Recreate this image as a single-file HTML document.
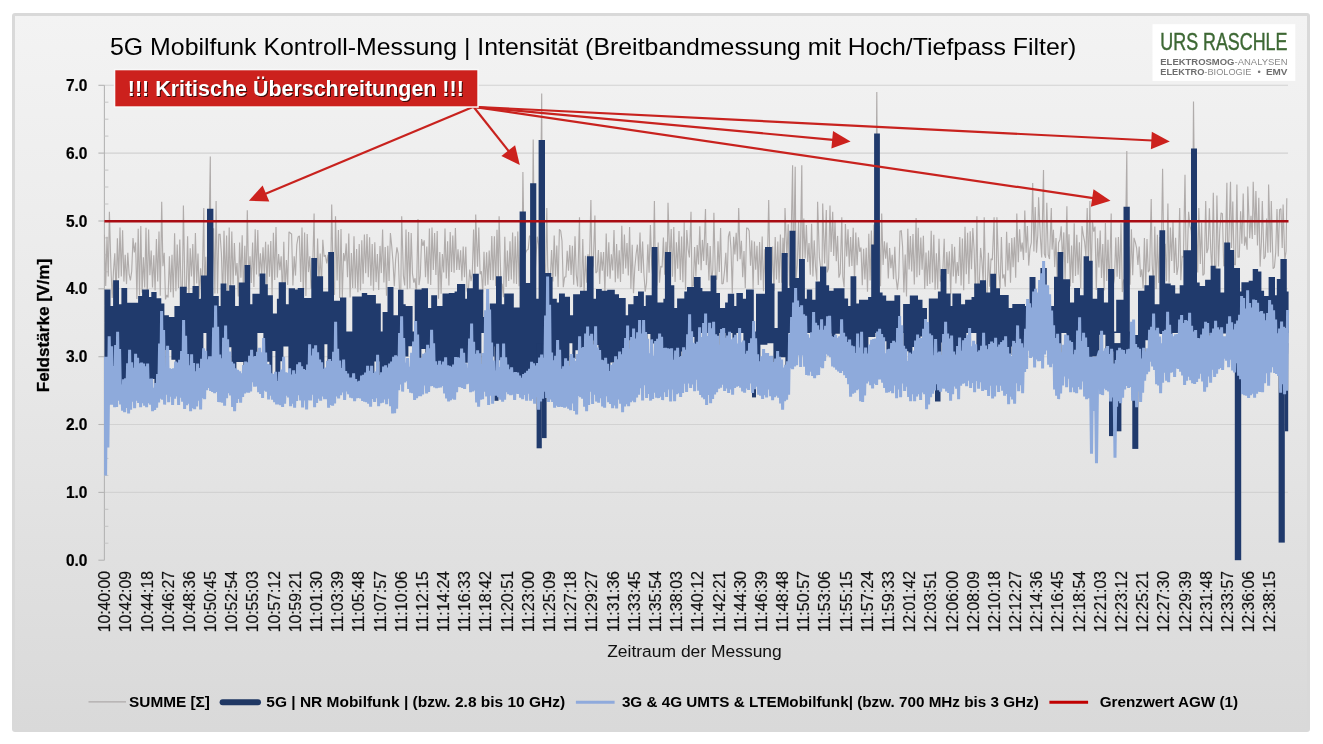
<!DOCTYPE html>
<html lang="de"><head><meta charset="utf-8"><title>5G Mobilfunk Kontroll-Messung</title>
<style>
html,body{margin:0;padding:0;background:#fff;}
body{width:1323px;height:744px;overflow:hidden;position:relative;font-family:'Liberation Sans', Arial, sans-serif;}
svg{position:absolute;left:0;top:0;display:block;}
text{font-family:'Liberation Sans', Arial, sans-serif;}
.b{font-weight:700;}
</style></head><body>
<svg width="1323" height="744" viewBox="0 0 1323 744">
<defs>
<linearGradient id="bg" x1="0" y1="0" x2="0" y2="1"><stop offset="0" stop-color="#f3f3f3"/><stop offset="0.45" stop-color="#e9e9e9"/><stop offset="1" stop-color="#d9d9d9"/></linearGradient>
<clipPath id="plot"><rect x="103.9" y="60" width="1187.6" height="501.2"/></clipPath>
</defs>
<rect x="12" y="13" width="1298" height="719" rx="3" fill="#d9d9d9"/>
<rect x="15" y="16" width="1292" height="715" fill="url(#bg)"/>
<g stroke="#d2d2d2" stroke-width="1.1" fill="none">
<line x1="104.4" y1="492.4" x2="1288" y2="492.4"/>
<line x1="104.4" y1="424.5" x2="1288" y2="424.5"/>
<line x1="104.4" y1="356.7" x2="1288" y2="356.7"/>
<line x1="104.4" y1="288.8" x2="1288" y2="288.8"/>
<line x1="104.4" y1="221" x2="1288" y2="221"/>
<line x1="104.4" y1="153.1" x2="1288" y2="153.1"/>
<line x1="104.4" y1="85.3" x2="1288" y2="85.3"/>
</g>
<g stroke="#b4b4b4" stroke-width="1.1" fill="none">
<line x1="104.4" y1="85.3" x2="104.4" y2="560.2"/>
<line x1="98.4" y1="560.2" x2="104.4" y2="560.2"/>
<line x1="98.4" y1="492.4" x2="104.4" y2="492.4"/>
<line x1="98.4" y1="424.5" x2="104.4" y2="424.5"/>
<line x1="98.4" y1="356.7" x2="104.4" y2="356.7"/>
<line x1="98.4" y1="288.8" x2="104.4" y2="288.8"/>
<line x1="98.4" y1="221" x2="104.4" y2="221"/>
<line x1="98.4" y1="153.1" x2="104.4" y2="153.1"/>
<line x1="98.4" y1="85.3" x2="104.4" y2="85.3"/>
</g>
<g stroke="#c4c4c4" stroke-width="1" fill="none">
<line x1="104.4" y1="543.2" x2="108.4" y2="543.2"/>
<line x1="104.4" y1="526.3" x2="108.4" y2="526.3"/>
<line x1="104.4" y1="509.3" x2="108.4" y2="509.3"/>
<line x1="104.4" y1="475.4" x2="108.4" y2="475.4"/>
<line x1="104.4" y1="458.4" x2="108.4" y2="458.4"/>
<line x1="104.4" y1="441.5" x2="108.4" y2="441.5"/>
<line x1="104.4" y1="407.5" x2="108.4" y2="407.5"/>
<line x1="104.4" y1="390.6" x2="108.4" y2="390.6"/>
<line x1="104.4" y1="373.6" x2="108.4" y2="373.6"/>
<line x1="104.4" y1="339.7" x2="108.4" y2="339.7"/>
<line x1="104.4" y1="322.7" x2="108.4" y2="322.7"/>
<line x1="104.4" y1="305.8" x2="108.4" y2="305.8"/>
<line x1="104.4" y1="271.8" x2="108.4" y2="271.8"/>
<line x1="104.4" y1="254.9" x2="108.4" y2="254.9"/>
<line x1="104.4" y1="237.9" x2="108.4" y2="237.9"/>
<line x1="104.4" y1="204" x2="108.4" y2="204"/>
<line x1="104.4" y1="187" x2="108.4" y2="187"/>
<line x1="104.4" y1="170.1" x2="108.4" y2="170.1"/>
<line x1="104.4" y1="136.1" x2="108.4" y2="136.1"/>
<line x1="104.4" y1="119.2" x2="108.4" y2="119.2"/>
<line x1="104.4" y1="102.2" x2="108.4" y2="102.2"/>
</g>
<g clip-path="url(#plot)">
<polyline fill="none" stroke="#b0acab" stroke-width="1.15" stroke-linejoin="miter" stroke-miterlimit="2" points="104.4,234.8 105.7,286.1 107,236.7 108.3,276.6 109.4,211.8 110.9,267.3 112.2,297.9 113.5,271.1 114.8,253.3 116.1,296.6 117.4,238.2 118.7,278.2 120,227.6 121.3,276.6 122.6,230.3 123.9,281.6 125.2,254.9 126.5,284.1 127.8,252.8 129.1,274.2 130.4,280.3 131.7,271.3 133,238.1 134.3,252.4 135.6,242.6 136.9,299.1 138.2,228.8 139.5,295.4 140.8,226 142.1,292.8 143.4,257.2 144.7,287.5 146,227.7 147.3,295.2 148.6,229.6 149.9,275.2 151.2,250.6 152.5,287.5 153.8,255.3 155.1,290.6 156.4,239 157.7,281.5 159,231.4 160.3,295.8 161.7,201.8 162.9,266.2 164.2,252.8 165.5,299.4 166.8,295 168.1,297.5 169.4,256.3 170.7,292.3 172,254.7 173.3,297.6 174.6,233.2 175.9,291.3 177.2,244.6 178.5,288.1 179.8,239.6 181.1,290.2 182.4,288.7 183.4,205.4 185,294.7 186.3,289.4 187.6,236.2 188.9,299.2 190.2,248.3 191.5,276.5 192.8,244 194.1,291.8 195.4,232.9 196.7,283.4 198,253.5 199.3,297.8 200.6,268.2 201.9,295.6 203.8,208.1 204.5,292.9 205.8,256.7 207.1,293.3 208.4,277.1 210.3,156.5 211,292.4 212.3,290.8 213.6,228.3 214.9,293.4 216.1,200.9 217.5,293.4 218.8,234.4 220.1,234.4 221.4,253.5 222.7,299.1 224,230.7 225.3,285.4 226.6,235.5 227.9,293.1 229.2,227.6 230.5,295.3 231.8,231.4 233.1,284.6 234.4,242.9 235.7,275.6 237,263.1 238.3,296.6 239.6,242.4 240.9,277.8 242.2,235.2 243.5,296.5 244.8,245.7 246.1,285.5 247.3,210.3 248.7,280 250,256.4 251.3,283 252.6,242.4 253.9,287.1 255.2,229.3 256.5,274.6 257.8,230 259.1,276.5 260.4,253.2 261.7,276.6 263,247.4 264.3,273.8 265.6,241.7 266.9,286.6 268.2,244.6 269.5,276.7 270.8,241.1 272.1,296.2 273.4,232.7 274.7,279.9 276,227.1 277.3,277.6 278.6,254 279.9,270.3 281.2,256.3 282.5,297.6 283.8,241.8 285.1,290.8 286.4,260.1 287.7,284.9 289,231.8 290.3,233 291.6,234.1 292.9,285.5 294.2,256.3 295.5,275.6 296.8,244.7 298.1,237 299.4,235.8 300.7,282.1 302,227.6 303.3,297 304.6,232.6 305.9,296 307.2,234 308.5,272.1 309.8,256.3 311.1,288.4 312.4,277.7 314.1,213.6 315,291.7 316.3,292.3 317.6,238.4 318.9,283.5 320.2,253.6 321.5,285.9 322.8,239.8 324.1,256.6 325.4,255.1 326.7,263.4 328,254.7 329.3,285.1 330.6,283.4 331.7,204.5 333.2,279.4 334.5,294.9 335.5,216.3 337.1,280.5 338.4,229.9 339.7,298.1 341,228.9 342.3,298.3 343.6,253 344.9,261.1 346.2,243.4 347.5,277.3 348.8,233.6 350.1,297.5 351.4,253 352.7,288 354,236.3 355.3,288.2 356.6,249.1 357.9,292.2 359.2,243.9 360.5,290.5 361.8,240.3 363.1,283.7 364.4,234.6 365.7,273.2 367,233.9 368.3,277.2 369.6,237.2 370.9,285.7 372.2,243.9 373.5,290.7 374.8,242.2 376.1,282.1 377.4,254 378.7,290 380,245.9 381.3,273.1 382.6,229.5 383.9,282.5 385.2,247.1 386.5,295.8 387.8,245.7 389.1,281 390.4,233 391.7,245.8 393,262 394.3,286.3 395.6,259.9 396.9,247.3 398.2,253.9 399.5,291.5 400.8,289.8 401.7,216.3 403.4,275.8 404.7,285.4 406,229.6 407.3,289.2 408.6,232 409.9,288.4 411.2,232.9 412.5,273.9 413.8,282.7 415.1,278.2 416.4,296 418,219 419,285.1 420.3,276 421.6,239 422.9,245.9 424.2,240.3 425.5,277.3 426.8,246.4 428.1,283.8 429.4,228.6 430.7,285.1 432,227.4 433.3,270 434.6,233.1 435.9,274.9 437.2,230.9 438.5,298.7 439.8,252 441.1,293.7 442.4,254 443.7,272.5 445,228.4 446.3,278.5 447.6,241.3 448.9,285.6 450.2,232 451.5,271.9 452.8,235.4 454.1,272.8 455.4,228.1 456.7,270 458,249.4 459.3,270 460.6,250.3 461.9,280.7 463.2,246.5 464.5,277.2 465.8,246.7 467.1,290.8 468.4,290 469.7,269.5 471,281.2 472.3,273.3 473.6,229.4 474.9,276.7 475.7,214.5 477.5,266.8 478.8,227.6 480.1,274.3 481.4,271.2 482.7,292.7 484,251.7 485.3,285.7 486.6,252.2 487.9,284.8 489.2,250.6 490.5,280 491.8,236 493.1,280.2 494.4,236.2 495.7,286.1 497,229.8 498.3,278.2 499.1,216.3 500.9,283.2 502.2,284.3 503.5,297.2 504.8,236.7 506.1,287 507.4,250.5 508.7,281 510,241.2 511.3,279.4 512.6,232.5 513.9,283.4 515.2,236.2 516.5,283.9 517.8,231.4 519.1,286.2 520.4,241 521.7,291.9 522.9,172.1 524.3,265 525.6,252.7 526.9,250.1 528.2,249.4 529.5,235.7 530.8,236.9 532.1,272.7 533.2,139.5 534.7,283.5 536,256.4 537.3,236.7 538.6,244.7 539.9,272.8 541.7,93.4 542.5,283.9 543.8,229.4 545.1,294.9 546.8,208.1 547.7,266.1 549,289.2 550.3,278.8 551.6,250 552.9,281.4 554.2,235.6 555.5,276.6 556.8,245.5 558.1,286.9 559.4,229.3 560.7,230.9 562,240.9 563.3,287.2 564.6,277.3 565.9,276.9 567.2,250.9 568.5,270.6 569.8,245.1 571.1,274.9 572.4,245.8 573.7,284.8 575,236.3 576.3,274.8 577.6,286.5 579.5,217.2 580.2,286.8 581.5,286.6 582.8,238.9 584.1,295.2 585.4,255.8 586.7,282.6 588,254.2 589.3,270.2 590.9,200 591.9,271.3 593.2,265.5 594.9,215.4 595.8,273 597.1,271.5 598.4,250 599.7,284 601,252.1 602.3,270.7 603.6,252 604.9,293.7 606.2,233.6 607.5,276.6 608.8,242.3 610.1,278.8 611.4,254.4 612.7,270.5 614,230.1 615.3,282.2 616.6,244.1 617.9,278.6 619.2,250.3 620.5,282 621.8,225.8 623.1,274.1 624.4,234.5 625.7,268.5 627,243 628.3,275.6 629.6,227 630.9,288.7 632.2,244.8 633.5,293.2 634.8,267.7 636.1,254.2 637.4,244.7 638.7,271 640,232.4 641.3,272.9 642.6,241.6 643.9,273.3 645.2,291.6 646.5,283.1 647.8,244.4 649.1,272.7 650.4,225 651.7,264.3 653,279.5 654.4,200.9 655.6,286.4 656.9,285.3 658.2,242.4 659.5,282.7 660.8,266.1 662.1,267.3 663.4,237.6 664.7,274.8 666,241.7 667.3,266.2 668,202.7 669.9,263.3 671.2,229 672.5,276.8 673.8,227.1 675.1,282.1 676.4,242.2 677.7,268.8 679,231.1 680.3,280.1 681.6,236.4 682.9,282.3 684.2,222.3 685.5,289.8 686.8,230.1 688.1,249 689.4,257.5 691,211.8 692,286.3 693.3,285.7 694.6,247 695.9,276.4 697.2,245 698.5,264.5 699.8,226.3 701.1,270.3 702.4,239.9 703.7,260.9 705.5,209 706.3,265.1 707.6,243.1 708.9,280.4 710.2,246.1 711.5,281.8 712.8,269.9 713.9,212.7 715.4,278 716.7,279.5 718,241.3 719.3,272 720.6,228.1 721.9,284.1 723.2,283.3 724.5,271.3 725.8,252.9 727.1,282.3 728.4,236.7 729.7,231.4 731,248.6 732.3,293.4 733.6,236.8 734.9,254.4 736.2,232.9 737.5,261.3 738.7,208.1 740.1,259.2 741.4,240.8 742.7,277.3 744,251.1 745.3,288 746.6,228.1 747.9,228.3 749.2,231 750.5,265.7 751.8,240.4 753.1,288.9 754.4,241.5 755.7,269.6 757,245.8 758.3,284.9 759.6,241.9 760.9,280.2 762.2,236.5 763.5,291.3 764.8,249.2 766.1,293.8 767.4,262.8 768.7,200 770,273.2 771.3,284.5 772.6,246.5 773.9,291.1 775.2,237 776.5,279.4 777.8,241.6 779.1,283 780.4,234.4 781.7,282.8 783,237.7 784.3,262.4 785,208.1 786.9,257.1 788.2,224.2 789.5,285.7 790.8,254.5 792.6,165.3 793.4,271.7 795.2,166.7 796,280.4 797.3,264.5 798.6,221 799.9,278.3 801.8,165.3 802.5,264 803.8,218.4 805.1,258.4 806.4,225 807.7,262.1 809,243 810.3,274.7 811.6,223.7 812.9,276.5 814.2,240.4 815.5,267 816.8,280.7 817.6,201.8 819.4,257.5 820.7,268.6 822,273.8 822.7,203.6 824.6,263.4 826.3,210 827.2,272.4 828.5,268.6 830,205.4 831.1,252 832.7,211.8 833.7,256.1 835,222 836.3,261.3 837.6,235.9 838.9,277.7 840.2,273.3 841.8,217.2 842.8,276.6 844.1,287.3 845.4,224.1 846.7,256.4 848,229.3 849.3,266.7 850.6,237.1 851.9,266 853.2,227.7 854.5,282.4 855.8,232.4 857.1,265.3 858.4,237.3 859.7,251.8 861,247.4 862.3,285.2 863.6,248.8 864.9,279.5 866.2,247.8 867.5,291.7 868.8,233.7 870.1,280.5 871.4,230.6 872.7,283.8 874,224.4 875.3,285.6 876.8,92 877.9,269.1 879.2,225.7 880.5,286.2 881.7,213.6 883.1,264.9 884.4,241.3 885.7,258.8 887,242.6 888.3,278.4 889.6,248 890.9,268.3 892.2,254.9 893.5,279.2 894.8,246.7 896.1,278.2 897.4,289.6 898.7,277.3 900,231.2 901.3,230.8 902.6,246.7 903.9,292.6 905.2,254.5 906.5,296.6 907.8,228.8 909.1,269.5 910.4,236.1 911.7,271.5 913,233.9 914.3,284.4 916.1,218.1 916.9,277.2 918.2,227.8 919.5,275.2 920.8,237.5 922.1,269.8 923.4,235.8 924.7,289 926,252.4 927.3,285.9 928.6,250.6 929.9,283.9 931.2,230.7 932.5,282.6 933.8,234.8 935.1,289.8 936.4,253.3 937.7,289.3 939,238.7 940.3,281.6 941.6,274.5 942.9,269.2 944.2,238.7 945.5,295.9 946.8,251.9 948.1,273.9 949.4,251.2 950.7,294.3 952,244 953.3,276.4 954.6,246.8 955.9,283.5 957.2,262.1 958.5,276 959.8,237.1 961.1,285.4 962.4,238.6 963.7,290.2 965,226.8 966.3,274.2 967.6,232.7 968.9,283.9 970.2,231.3 971.5,269.3 972.8,228 974.1,249.4 975.4,293.6 976.9,216.3 978,293.6 979.3,282.4 980.6,247.9 981.9,261.1 983.2,282.5 984.2,217.2 985.8,293.3 987.1,293.8 988.4,252.8 989.7,286.7 991,258.7 992.3,260.1 994.1,217.2 994.9,283.9 996.2,290.8 996.9,217.2 998.8,271.8 1000.1,288.8 1001.4,237.1 1002.7,278.4 1004,274.3 1005.3,286.8 1006.6,231.7 1007.9,270.4 1009.2,242.9 1010.5,282.8 1011.8,238 1013.1,267.2 1014.4,237.2 1015.7,277.7 1016.8,213.6 1018.3,262.2 1019.6,229.2 1020.9,251.6 1022.2,242.5 1023.5,260 1024.8,210.6 1026.1,252.7 1027.4,226.1 1028.7,265.6 1030,249.1 1031.3,242.6 1032.7,183 1033.9,251.5 1035.2,206.9 1036.5,252.8 1037.8,234.9 1038.6,197.3 1040.4,237.7 1041.7,257.5 1043.5,170.1 1044.3,253.7 1045.6,257.7 1046.8,202.7 1048.2,254.6 1049.5,259 1051.3,208.1 1052.1,249.6 1053.4,229.8 1054.7,267.1 1056,238.1 1057.3,283.6 1058.6,242.7 1059.9,239.7 1061.2,226.2 1062.5,262 1063.8,232.4 1065.1,279.7 1066.9,206.3 1067.7,263.3 1069,234.2 1070.3,286.6 1071.6,245.5 1072.9,283.1 1074.2,223.2 1075.5,275.9 1076.8,234.8 1078.1,274.8 1079.4,242.3 1080.7,288.4 1082,226.1 1083.3,234.8 1084.6,241.7 1085.9,256.3 1087.2,208.1 1088.5,267.9 1089.9,200.9 1091.1,281.3 1092.4,220.8 1093.7,231.7 1095,226.6 1096.3,289.9 1097.6,238.2 1098.9,267.5 1100.2,230.5 1101.5,278 1102.8,244.1 1104.1,290.4 1105.4,222.9 1106.7,281 1108,239.8 1109.3,288.3 1111.2,213.6 1111.9,284.1 1113.2,286 1114.5,278.3 1115.8,237.5 1117.1,276.7 1118.4,236.9 1119.7,279.1 1121,223.2 1122.3,292.1 1123.6,279.5 1124.9,283.4 1126.8,151.1 1127.5,275.7 1128.8,246.5 1130.1,284.8 1131.4,229.3 1132.7,275.3 1134,237.8 1135.3,242.2 1136.6,248 1137.9,265 1139.2,246.5 1140.5,277.1 1141.8,269.3 1143.1,288.2 1144.4,237.9 1145.7,286 1147,238.9 1148.3,272.1 1149.6,270.1 1151.2,199.1 1152.2,264.8 1153.5,284.9 1154.8,226.6 1156.1,289 1157.4,234.8 1158.7,283.1 1160,236.9 1161.3,253.9 1162.6,168.7 1163.9,263.6 1165.2,243.7 1166.5,281.3 1167.9,203.6 1169.1,282.7 1170.4,227.6 1171.7,261 1173,222.1 1174.3,272.9 1175.6,237.7 1176.9,275 1178.2,266.1 1179.7,208.1 1180.8,280.2 1182.1,256.4 1183.4,257.2 1185,174.8 1186,252.6 1187.3,257.1 1188.6,211.8 1189.9,225.8 1191.2,230.7 1192.5,249.2 1193.5,101.5 1195.1,259.5 1196.4,223.1 1197.7,272.5 1198.8,208.1 1200.3,263.9 1201.6,222.6 1202.9,275.4 1204.2,273.8 1205.7,200.9 1206.8,253.1 1208.1,248.5 1209.4,208.2 1210.7,249.6 1212,271.9 1213.3,192.7 1214.6,265.1 1215.9,269.9 1216.9,195.4 1218.5,266.6 1219.8,229.7 1221.1,212.9 1222.4,213.9 1223.7,265.8 1225,265.4 1226.9,182.7 1227.6,251.3 1228.9,240.3 1230.5,181.8 1231.5,248 1232.8,201.5 1234.1,264.1 1235.4,264.9 1236.9,184.6 1238,257.1 1239.3,257 1240.6,211.3 1241.9,243.7 1243.2,193.6 1244.5,245.7 1245.8,236.7 1247.1,249.8 1247.8,186.4 1249.7,238.2 1251,215.9 1252.3,239 1253.2,181.8 1254.9,235.1 1255.9,190.9 1257.5,245.5 1258.8,197.7 1260.1,266.6 1261.4,242.1 1262.3,200.9 1264,259.1 1265.3,256.4 1266.6,218.6 1267.9,252.8 1268.6,184.6 1270.5,252.5 1271.3,200.9 1273.1,268.7 1274.4,267.2 1275.7,252.6 1277,209 1278.3,256.6 1279.6,209.8 1280.9,208.7 1282.2,248.1 1283.1,204.5 1284.8,259.9 1286.1,251.3 1286.8,198.2"/>
<path fill="#203a6c" d="M104.5 356.7L104.5 289.4L110.5 289.4L110.5 306.1L113.1 306.1L113.1 280.3L119 280.3L119 304.3L121.4 304.3L121.4 288L127.2 288L127.2 302.8L138.1 302.8L138.1 296.1L142.1 296.1L142.1 289.4L149 289.4L149 297L151.3 297L151.3 292.1L156.6 292.1L156.6 298.3L161.3 298.3L161.3 303.4L164.4 303.4L164.4 315.2L168.9 315.2L168.9 317L174.4 317L174.4 306.1L179.8 306.1L179.8 286.7L186.7 286.7L186.7 293L192.5 293L192.5 286.1L198.9 286.1L198.9 298.8L200.9 298.8L200.9 275.6L207 275.6L207 208.7L213.4 208.7L213.4 296.1L218.8 296.1L218.8 306.1L220.6 306.1L220.6 283.4L226.4 283.4L226.4 290.7L229.2 290.7L229.2 285.2L235.1 285.2L235.1 306.1L238.8 306.1L238.8 282.5L244.6 282.5L244.6 264.9L250.2 264.9L250.2 304.3L252.4 304.3L252.4 293.8L259.6 293.8L259.6 273.4L265.4 273.4L265.4 284.3L267.8 284.3L267.8 295.2L272.9 295.2L272.9 313.4L276.9 313.4L276.9 298.8L278.7 298.8L278.7 282.2L285.9 282.2L285.9 304.3L288.7 304.3L288.7 288.3L295 288.3L295 289.4L297.7 289.4L297.7 288L304.1 288L304.1 297.9L311.3 297.9L311.3 258L317.1 258L317.1 276.2L323.1 276.2L323.1 291.6L328.2 291.6L328.2 252L334 252L334 300.7L340 300.7L340 297.4L346.3 297.4L346.3 331.5L352.3 331.5L352.3 296.5L361.8 296.5L361.8 293L367.2 293L367.2 294.9L375.9 294.9L375.9 303.4L380.8 303.4L380.8 331.5L382.6 331.5L382.6 311.9L387.5 311.9L387.5 287.1L393.5 287.1L393.5 315.2L398 315.2L398 289.8L403.5 289.8L403.5 304.3L405.7 304.3L405.7 306.1L412.6 306.1L412.6 331.5L414.7 331.5L414.7 289.4L421.6 289.4L421.6 288.3L428 288.3L428 307.9L431.2 307.9L431.2 295.2L437.1 295.2L437.1 306.1L442.5 306.1L442.5 293.4L448.8 293.4L448.8 293L454.6 293L454.6 291.6L457 291.6L457 284L465.2 284L465.2 298.8L467 298.8L467 288.3L472.8 288.3L472.8 273.8L478.8 273.8L478.8 289.4L483.3 289.4L483.3 317L489.7 317L489.7 303.4L496 303.4L496 276.2L501.8 276.2L501.8 304.3L504.2 304.3L504.2 293.4L513.8 293.4L513.8 307.6L519.6 307.6L519.6 211.4L525.9 211.4L525.9 282.9L530.1 282.9L530.1 183.3L536.3 183.3L536.3 298.8L538.6 298.8L538.6 140.1L545 140.1L545 273.1L551.3 273.1L551.3 277.1L552.6 277.1L552.6 298.8L556.8 298.8L556.8 302.5L559 302.5L559 293.4L564.9 293.4L564.9 296.7L570 296.7L570 315.2L573.1 315.2L573.1 294.3L580 294.3L580 290.7L586.9 290.7L586.9 256.2L593.6 256.2L593.6 298.8L596 298.8L596 288.9L601.8 288.9L601.8 290.7L607.2 290.7L607.2 289.8L614.8 289.8L614.8 294.3L619 294.3L619 297.9L625.7 297.9L625.7 315.2L628.1 315.2L628.1 304.3L633.5 304.3L633.5 296.1L638 296.1L638 291.6L643.9 291.6L643.9 306.1L645.7 306.1L645.7 295.2L651.7 295.2L651.7 247.1L657.5 247.1L657.5 302.5L663.4 302.5L663.4 298.8L664.9 298.8L664.9 252L671.1 252L671.1 285.2L674.3 285.2L674.3 307.9L677.1 307.9L677.1 298.5L684.3 298.5L684.3 291.6L687 291.6L687 287.1L693.9 287.1L693.9 277.1L700.6 277.1L700.6 288L702.4 288L702.4 291.2L710.6 291.2L710.6 275.6L716.4 275.6L716.4 293L720 293L720 307.9L725.1 307.9L725.1 302.5L727.8 302.5L727.8 293.8L734.2 293.8L734.2 306.1L736.4 306.1L736.4 293L742.9 293L742.9 298.8L746 298.8L746 289.4L753.8 289.4L753.8 331.5L756 331.5L756 293.8L765 293.8L765 247.1L771.9 247.1L771.9 283.4L774.5 283.4L774.5 327.9L777.7 327.9L777.7 291.6L781.7 291.6L781.7 253.1L787.7 253.1L787.7 288L789.5 288L789.5 230.8L795.5 230.8L795.5 278L799 278L799 258.9L804.9 258.9L804.9 298.8L806.8 298.8L806.8 289.4L812.2 289.4L812.2 299.8L815.5 299.8L815.5 281.6L820 281.6L820 266.6L826.3 266.6L826.3 285.2L829.1 285.2L829.1 290.7L833.6 290.7L833.6 288.3L844.5 288.3L844.5 298.5L848.1 298.5L848.1 306.1L850.5 306.1L850.5 276.2L856.3 276.2L856.3 303.4L859 303.4L859 299.8L868.1 299.8L868.1 297L871.2 297L871.2 244.4L874.1 244.4L874.1 133.6L879.9 133.6L879.9 292.5L882.6 292.5L882.6 295.6L886.2 295.6L886.2 300.7L894.4 300.7L894.4 295.2L900.2 295.2L900.2 331.5L903.1 331.5L903.1 303.9L909.8 303.9L909.8 295.6L918 295.6L918 299.8L922.5 299.8L922.5 307.9L927 307.9L927 331.5L928.8 331.5L928.8 298.5L937.9 298.5L937.9 291.6L940.6 291.6L940.6 268.9L946.4 268.9L946.4 293.4L950.6 293.4L950.6 306.1L952.4 306.1L952.4 293.4L961.1 293.4L961.1 304.3L965.1 304.3L965.1 299.8L971.5 299.8L971.5 297L974.2 297L974.2 283.4L980 283.4L980 280.3L986 280.3L986 292.5L990.2 292.5L990.2 273.8L996 273.8L996 288.3L1000 288.3L1000 294.9L1008.7 294.9L1008.7 307.9L1012.3 307.9L1012.3 303.9L1025 303.9L1025 306.1L1029.5 306.1L1029.5 277.1L1035.5 277.1L1035.5 293.4L1040.4 293.4L1040.4 268L1046.8 268L1046.8 306.1L1054 306.1L1054 276.7L1057.6 276.7L1057.6 252L1060 252L1060 252L1063.3 252L1063.3 279.3L1070 279.3L1070 302.5L1074.1 302.5L1074.1 288L1080 288L1080 295.2L1083.6 295.2L1083.6 256.2L1089 256.2L1089 260.7L1092.7 260.7L1092.7 298.8L1097.2 298.8L1097.2 288L1103.9 288L1103.9 302.5L1108.1 302.5L1108.1 268.9L1114.1 268.9L1114.1 331.5L1116.2 331.5L1116.2 299.8L1123.5 299.8L1123.5 206.7L1129.8 206.7L1129.8 331.5L1131.7 331.5L1131.7 335.1L1138 335.1L1138 290.7L1144.4 290.7L1144.4 285.2L1148.9 285.2L1148.9 275.6L1154.7 275.6L1154.7 304.3L1159.4 304.3L1159.4 230.3L1165.2 230.3L1165.2 283.4L1170.7 283.4L1170.7 285.2L1175.2 285.2L1175.2 293.4L1179.7 293.4L1179.7 285.2L1183.4 285.2L1183.4 250.2L1191 250.2L1191 148.6L1197 148.6L1197 282.5L1199.7 282.5L1199.7 286.1L1205.1 286.1L1205.1 279.8L1210.6 279.8L1210.6 265.8L1215.6 265.8L1215.6 268.4L1220.5 268.4L1220.5 292.5L1224.2 292.5L1224.2 242.6L1230.2 242.6L1230.2 249.9L1234.1 249.9L1234.1 268L1240 268L1240 291.6L1241.4 291.6L1241.4 282.2L1248.7 282.2L1248.7 280.7L1252.7 280.7L1252.7 269.1L1258.1 269.1L1258.1 271.6L1261.4 271.6L1261.4 290.7L1264.1 290.7L1264.1 296.1L1268.6 296.1L1268.6 277.1L1275 277.1L1275 295.2L1276.8 295.2L1276.8 278.9L1280.4 278.9L1280.4 258.9L1286.8 258.9L1286.8 291.6L1288.6 291.6L1288.6 356.7L1288.3 332.9L1285.4 332.9L1285.4 336.8L1279.4 336.8L1279.4 338.1L1275.4 338.1L1275.4 332.9L1269.4 332.9L1269.4 332.9L1264.4 332.9L1264.4 332.9L1261.4 332.9L1261.4 332.9L1254.4 332.9L1254.4 332.9L1248.4 332.9L1248.4 332.9L1242.4 332.9L1242.4 332.9L1236.4 332.9L1236.4 332.9L1233.4 332.9L1233.4 332.9L1228.4 332.9L1228.4 333.6L1222.4 333.6L1222.4 332.9L1218.4 332.9L1218.4 332.9L1215.4 332.9L1215.4 335.8L1209.4 335.8L1209.4 332.9L1202.4 332.9L1202.4 352.1L1197.4 352.1L1197.4 351.3L1191.4 351.3L1191.4 343.2L1188.4 343.2L1188.4 332.9L1184.4 332.9L1184.4 332.9L1179.4 332.9L1179.4 332.9L1172.4 332.9L1172.4 337.2L1166.4 337.2L1166.4 334L1159.4 334L1159.4 332.9L1152.4 332.9L1152.4 340.2L1145.4 340.2L1145.4 365.1L1138.4 365.1L1138.4 351.9L1131.4 351.9L1131.4 370.7L1126.4 370.7L1126.4 372.1L1120.4 372.1L1120.4 332.9L1114.4 332.9L1114.4 351.6L1109.4 351.6L1109.4 355.1L1105.4 355.1L1105.4 334.8L1099.4 334.8L1099.4 356.6L1092.4 356.6L1092.4 362.5L1086.4 362.5L1086.4 352.6L1079.4 352.6L1079.4 367.1L1072.4 367.1L1072.4 358L1069.4 358L1069.4 355.3L1066.4 355.3L1066.4 332.9L1061.4 332.9L1061.4 361.8L1057.4 361.8L1057.4 348.8L1053.4 348.8L1053.4 332.9L1050.4 332.9L1050.4 332.9L1044.4 332.9L1044.4 332.9L1041.4 332.9L1041.4 332.9L1036.4 332.9L1036.4 332.9L1031.4 332.9L1031.4 332.9L1024.4 332.9L1024.4 348.3L1018.4 348.3L1018.4 346.5L1011.4 346.5L1011.4 355.1L1004.4 355.1L1004.4 356.4L997.4 356.4L997.4 359.7L990.4 359.7L990.4 349.8L983.4 349.8L983.4 352L976.4 352L976.4 332.9L973.4 332.9L973.4 332.9L966.4 332.9L966.4 358.5L960.4 358.5L960.4 354.6L955.4 354.6L955.4 362.9L950.4 362.9L950.4 355L944.4 355L944.4 342.4L941.4 342.4L941.4 360.9L935.4 360.9L935.4 358.4L932.4 358.4L932.4 341.5L927.4 341.5L927.4 336.5L920.4 336.5L920.4 351.6L915.4 351.6L915.4 347.1L912.4 347.1L912.4 363L908.4 363L908.4 351.3L903.4 351.3L903.4 332.9L896.4 332.9L896.4 354L891.4 354L891.4 355.7L886.4 355.7L886.4 341.2L879.4 341.2L879.4 332.9L875.4 332.9L875.4 337.1L868.4 337.1L868.4 366.8L861.4 366.8L861.4 353.4L854.4 353.4L854.4 366.8L848.4 366.8L848.4 349.3L841.4 349.3L841.4 333.8L835.4 333.8L835.4 342.6L831.4 342.6L831.4 333.5L826.4 333.5L826.4 332.9L821.4 332.9L821.4 332.9L815.4 332.9L815.4 344.2L810.4 344.2L810.4 332.9L806.4 332.9L806.4 332.9L802.4 332.9L802.4 332.9L795.4 332.9L795.4 332.9L788.4 332.9L788.4 367.4L785.4 367.4L785.4 357.2L779.4 357.2L779.4 366.1L773.4 366.1L773.4 343.2L767.4 343.2L767.4 344.7L760.4 344.7L760.4 363.4L754.4 363.4L754.4 344.7L748.4 344.7L748.4 368.5L743.4 368.5L743.4 332.9L736.4 332.9L736.4 346L732.4 346L732.4 332.9L728.4 332.9L728.4 353.7L725.4 353.7L725.4 332.9L719.4 332.9L719.4 346.9L713.4 346.9L713.4 349L710.4 349L710.4 332.9L703.4 332.9L703.4 332.9L700.4 332.9L700.4 350.3L697.4 350.3L697.4 344.7L694.4 344.7L694.4 337L688.4 337L688.4 351.5L681.4 351.5L681.4 372.7L675.4 372.7L675.4 366.6L669.4 366.6L669.4 369.4L662.4 369.4L662.4 363.3L656.4 363.3L656.4 343.4L650.4 343.4L650.4 334.1L647.4 334.1L647.4 339L641.4 339L641.4 340.2L635.4 340.2L635.4 340.3L629.4 340.3L629.4 361.8L622.4 361.8L622.4 363.8L616.4 363.8L616.4 362.4L610.4 362.4L610.4 383.5L604.4 383.5L604.4 365L601.4 365L601.4 363.7L598.4 363.7L598.4 344.9L593.4 344.9L593.4 340.6L587.4 340.6L587.4 351.4L584.4 351.4L584.4 359L578.4 359L578.4 350.2L575.4 350.2L575.4 359L572.4 359L572.4 343.3L569.4 343.3L569.4 375.8L563.4 375.8L563.4 380.9L558.4 380.9L558.4 373.8L551.4 373.8L551.4 352.7L547.4 352.7L547.4 369.2L544.4 369.2L544.4 361.5L539.4 361.5L539.4 379.3L533.4 379.3L533.4 372.9L530.4 372.9L530.4 392.2L524.4 392.2L524.4 387.7L520.4 387.7L520.4 385.7L513.4 385.7L513.4 373L507.4 373L507.4 365.2L500.4 365.2L500.4 360.2L497.4 360.2L497.4 346.4L494.4 346.4L494.4 356.4L488.4 356.4L488.4 332.9L481.4 332.9L481.4 372.7L474.4 372.7L474.4 345.7L468.4 345.7L468.4 362.8L462.4 362.8L462.4 366.4L457.4 366.4L457.4 374.1L452.4 374.1L452.4 367.9L446.4 367.9L446.4 373.8L439.4 373.8L439.4 368.7L433.4 368.7L433.4 371.8L429.4 371.8L429.4 352.8L425.4 352.8L425.4 349.1L421.4 349.1L421.4 373.2L417.4 373.2L417.4 373.9L413.4 373.9L413.4 346.2L408.4 346.2L408.4 356.6L401.4 356.6L401.4 362.6L397.4 362.6L397.4 373.8L391.4 373.8L391.4 368.2L385.4 368.2L385.4 385.4L379.4 385.4L379.4 361.5L374.4 361.5L374.4 375.6L369.4 375.6L369.4 385.3L362.4 385.3L362.4 386.7L355.4 386.7L355.4 379.1L349.4 379.1L349.4 379.7L344.4 379.7L344.4 382.4L339.4 382.4L339.4 376L332.4 376L332.4 377.1L327.4 377.1L327.4 344.2L324.4 344.2L324.4 379.5L319.4 379.5L319.4 361.5L312.4 361.5L312.4 376.1L306.4 376.1L306.4 391.4L300.4 391.4L300.4 384.5L294.4 384.5L294.4 385.7L288.4 385.7L288.4 346.6L283.4 346.6L283.4 361.3L280.4 361.3L280.4 381.2L275.4 381.2L275.4 351L272.4 351L272.4 381.2L269.4 381.2L269.4 361.8L263.4 361.8L263.4 333.1L257.4 333.1L257.4 366.5L254.4 366.5L254.4 365.1L251.4 365.1L251.4 367L246.4 367L246.4 368.7L243.4 368.7L243.4 362L236.4 362L236.4 375.5L231.4 375.5L231.4 347.3L224.4 347.3L224.4 370.8L218.4 370.8L218.4 332.9L213.4 332.9L213.4 371L206.4 371L206.4 332.9L203.4 332.9L203.4 372.9L197.4 372.9L197.4 384.1L191.4 384.1L191.4 375.2L186.4 375.2L186.4 367.8L179.4 367.8L179.4 365.2L175.4 365.2L175.4 359.8L171.4 359.8L171.4 350.1L165.4 350.1L165.4 384.3L159.4 384.3L159.4 388.9L154.4 388.9L154.4 379L151.4 379L151.4 393L148.4 393L148.4 369.7L142.4 369.7L142.4 382.9L138.4 382.9L138.4 381.6L132.4 381.6L132.4 390.9L125.4 390.9L125.4 385.2L120.4 385.2L120.4 392.1L114.4 392.1L114.4 369.2L108.4 369.2L108.4 357.6L104.4 357.6Z"/>
<rect x="536.6" y="343.1" width="5.2" height="105.2" fill="#203a6c"/>
<rect x="541.8" y="343.1" width="4.8" height="95" fill="#203a6c"/>
<rect x="1109" y="343.1" width="4.4" height="93" fill="#203a6c"/>
<rect x="1113.4" y="343.1" width="8" height="88.2" fill="#203a6c"/>
<rect x="1132.3" y="343.1" width="6" height="105.8" fill="#203a6c"/>
<rect x="1234.8" y="343.1" width="6.4" height="217.1" fill="#203a6c"/>
<rect x="1278.6" y="343.1" width="6.2" height="199.5" fill="#203a6c"/>
<rect x="1284.8" y="343.1" width="3.4" height="88.2" fill="#203a6c"/>
<rect x="494.5" y="343.1" width="4" height="57.7" fill="#203a6c"/>
<rect x="935" y="343.1" width="5.5" height="58.4" fill="#203a6c"/>
<rect x="752" y="343.1" width="4" height="54.3" fill="#203a6c"/>
<polyline fill="none" stroke="#8eaadb" stroke-width="3" stroke-linejoin="bevel" points="105.2,356.7 105.6,475.4 106.7,356.7 107.9,447.6 109.2,336.3 110.6,404.6 111.6,346.3 112.6,404.8 113.6,366.1 114.6,407.3 115.6,344.9 116.6,406.9 117.6,331.7 118.6,400.7 119.6,349.1 120.6,404.5 121.6,384.5 122.6,410.6 123.6,379.3 124.6,412.1 125.6,378.3 126.6,407.9 127.6,363.4 128.6,413.5 129.6,349.8 130.6,409.6 131.6,362.4 132.6,401.7 133.6,367.8 134.6,408.2 135.6,353.9 136.6,400.6 137.6,357.9 138.6,402.9 139.6,363.3 140.6,407.2 141.6,362.5 142.6,403.1 143.6,363.6 144.6,405.8 145.6,366.4 146.6,407.2 147.6,363.6 148.6,403.2 149.6,378.7 150.6,404.6 151.6,378.5 152.6,411.3 153.6,387.8 154.6,410 155.6,383 156.6,407.7 157.6,374 158.6,402.4 159.6,343.5 160.6,398.7 161.6,310.9 162.6,399.7 163.6,330.1 164.6,404.6 165.6,367 166.6,394.7 167.6,345.8 168.6,402.2 169.6,368.3 170.6,396.7 171.6,369 172.6,405 173.6,368.3 174.6,398.7 175.6,361.5 176.6,396.4 177.6,362.6 178.6,405 179.6,359.9 180.6,397.7 181.6,351 182.6,401.6 183.6,320 184.6,409.1 185.6,335.7 186.6,405.1 187.6,354.1 188.6,403.8 189.6,365.4 190.6,411.1 191.6,354.3 192.6,408.3 193.6,363.1 194.6,409.3 195.6,371.4 196.6,406.4 197.6,363.6 198.6,400.6 199.6,368 200.6,409.5 201.6,358.9 202.6,398.3 203.6,348.2 204.6,399.1 205.6,350.7 206.6,390.2 207.6,359.4 208.6,387.9 209.6,356.3 210.6,391 211.6,356.3 212.6,391.9 213.6,327.4 214.6,393.2 215.6,305.4 216.6,392 217.6,326.8 218.6,402.1 219.6,354.6 220.6,402.3 221.6,358.3 222.6,402.6 223.6,337.8 224.6,405.7 225.6,325.4 226.6,398.2 227.6,339.2 228.6,393.2 229.6,351.5 230.6,395.4 231.6,361.7 232.6,406.9 233.6,363.5 234.6,411.1 235.6,368.2 236.6,402.9 237.6,369.9 238.6,398.9 239.6,371.2 240.6,402.7 241.6,373.2 242.6,396.9 243.6,365 244.6,393.4 245.6,361.6 246.6,392.5 247.6,362.3 248.6,392.6 249.6,355.9 250.6,391.5 251.6,349.8 252.6,382.3 253.6,356.6 254.6,386.7 255.6,356.1 256.6,386.5 257.6,351.7 258.6,392.2 259.6,347.9 260.6,393.9 261.6,352.2 262.6,398 263.6,338.1 264.6,390.8 265.6,352.6 266.6,391.6 267.6,364 268.6,399.4 269.6,364.9 270.6,395.8 271.6,373.2 272.6,399.8 273.6,374.1 274.6,402.1 275.6,371.8 276.6,404.5 277.6,381.3 278.6,404.5 279.6,371.9 280.6,405.1 281.6,369.6 282.6,406.9 283.6,356.9 284.6,403.8 285.6,372.2 286.6,395.7 287.6,372.8 288.6,397.5 289.6,368.2 290.6,406.1 291.6,374.5 292.6,403.7 293.6,370.2 294.6,407.7 295.6,373.7 296.6,401 297.6,364.4 298.6,395.2 299.6,362.2 300.6,400.4 301.6,366.3 302.6,407.5 303.6,369 304.6,400.5 305.6,370 306.6,409.5 307.6,364.6 308.6,400.1 309.6,344.4 310.6,400.4 311.6,355.5 312.6,394.6 313.6,348.5 314.6,407.3 315.6,345.3 316.6,403 317.6,352.3 318.6,398.7 319.6,359.6 320.6,400.6 321.6,362.2 322.6,396.4 323.6,368.9 324.6,399.2 325.6,367.6 326.6,399.1 327.6,360.9 328.6,407.7 329.6,359 330.6,405 331.6,361.1 332.6,405.7 333.6,351.9 334.6,403.5 335.6,321.8 336.6,396.5 337.6,348.7 338.6,398.5 339.6,360.6 340.6,395.2 341.6,368.1 342.6,392.5 343.6,359.5 344.6,399.9 345.6,371 346.6,391.5 347.6,373.5 348.6,394.3 349.6,377.5 350.6,397.6 351.6,377.6 352.6,398.1 353.6,373.3 354.6,401.2 355.6,379.1 356.6,398.1 357.6,381.7 358.6,397.9 359.6,380.8 360.6,398.3 361.6,375.6 362.6,401 363.6,374.9 364.6,401.7 365.6,372.6 366.6,402.2 367.6,365.9 368.6,403.8 369.6,370.8 370.6,406.8 371.6,365.7 372.6,398.9 373.6,373 374.6,402 375.6,371.6 376.6,398.2 377.6,354.8 378.6,406.3 379.6,375.1 380.6,403.2 381.6,372.2 382.6,402.8 383.6,366.5 384.6,399.5 385.6,365.4 386.6,404.1 387.6,367.5 388.6,398.7 389.6,363.5 390.6,406.3 391.6,361.5 392.6,413.4 393.6,356.7 394.6,413.3 395.6,355.3 396.6,408.7 397.6,356.4 398.6,390.1 399.6,333 400.6,384.4 401.6,316.3 402.6,391.6 403.6,338 404.6,382.4 405.6,362.8 406.6,381.1 407.6,358 408.6,389 409.6,366.8 410.6,392.6 411.6,352.9 412.6,393.2 413.6,341.5 414.6,399.9 415.6,320.9 416.6,398.2 417.6,334.4 418.6,396.3 419.6,357.7 420.6,396.3 421.6,357.9 422.6,394.5 423.6,353.7 424.6,385.4 425.6,352.9 426.6,393.4 427.6,344.7 428.6,391.9 429.6,348.4 430.6,386.1 431.6,329.9 432.6,386 433.6,343.2 434.6,387.5 435.6,361.4 436.6,388.1 437.6,364.9 438.6,387.6 439.6,360.8 440.6,387.5 441.6,364.6 442.6,385.9 443.6,361.6 444.6,393.5 445.6,357.2 446.6,398.5 447.6,365.4 448.6,401.4 449.6,365.9 450.6,400.3 451.6,366.8 452.6,398.7 453.6,364.6 454.6,399.7 455.6,357.1 456.6,392.3 457.6,357.2 458.6,387 459.6,357.7 460.6,387.3 461.6,348.6 462.6,388 463.6,352.9 464.6,388.9 465.6,363.4 466.6,384.2 467.6,368.3 468.6,383.7 469.6,338.6 470.6,392.3 471.6,323.6 472.6,391.5 473.6,341.8 474.6,390.4 475.6,353.8 476.6,402.4 477.6,350.2 478.6,406.6 479.6,353.4 480.6,399.6 481.6,364 482.6,399.1 483.6,353 484.6,391.7 485.6,310.2 486.6,396.5 487.6,289.1 488.6,405.1 489.6,309.5 490.6,395.8 491.6,342.5 492.6,403.8 493.6,360.5 494.6,395.7 495.6,370.6 496.6,395.7 497.6,343.8 498.6,397.2 499.6,367.1 500.6,399.6 501.6,357.4 502.6,401.6 503.6,343.5 504.6,399.8 505.6,357.2 506.6,392.2 507.6,364.6 508.6,394.2 509.6,369.3 510.6,395.1 511.6,367.4 512.6,394.7 513.6,372.2 514.6,400 515.6,372 516.6,393.6 517.6,372.6 518.6,393.9 519.6,375.6 520.6,397.7 521.6,377.8 522.6,399.1 523.6,374.1 524.6,395 525.6,372.7 526.6,400.7 527.6,370.7 528.6,393.7 529.6,368.9 530.6,400.8 531.6,361.9 532.6,398.9 533.6,363.4 534.6,403.7 535.6,365.5 536.6,397.3 537.6,363 538.6,409.8 539.6,357.5 540.6,401.5 541.6,354.5 542.6,398.6 543.6,357.8 544.6,391.7 545.6,315.5 546.6,398.1 547.6,276.4 548.6,402 549.6,304.8 550.6,399.5 551.6,352.5 552.6,402 553.6,360.4 554.6,407.6 555.6,355.7 556.6,405.8 557.6,339.9 558.6,407 559.6,349.7 560.6,406.6 561.6,368.8 562.6,406.9 563.6,366.2 564.6,407.8 565.6,358.4 566.6,406.8 567.6,360.9 568.6,408.8 569.6,365.8 570.6,410.2 571.6,354 572.6,403.4 573.6,357.7 574.6,411 575.6,360.7 576.6,414.5 577.6,354 578.6,396 579.6,336.3 580.6,397.2 581.6,347.9 582.6,398.7 583.6,347.1 584.6,406.7 585.6,333.4 586.6,411.2 587.6,326.4 588.6,405.1 589.6,335.7 590.6,391.8 591.6,333.8 592.6,403.9 593.6,344.5 594.6,394.6 595.6,326.3 596.6,401.6 597.6,347.5 598.6,402.6 599.6,350 600.6,398.2 601.6,359.8 602.6,406.5 603.6,360.4 604.6,407.6 605.6,357.9 606.6,396.3 607.6,363.9 608.6,402.3 609.6,371.1 610.6,404 611.6,364.8 612.6,408.3 613.6,363.1 614.6,405.4 615.6,356.2 616.6,408.4 617.6,359.3 618.6,399.4 619.6,351.6 620.6,403.7 621.6,354.4 622.6,412.3 623.6,348.1 624.6,406.5 625.6,337.9 626.6,404.3 627.6,325.4 628.6,406.2 629.6,348.8 630.6,402.3 631.6,337 632.6,400.7 633.6,328.4 634.6,402.3 635.6,338.5 636.6,397.6 637.6,332.2 638.6,394.8 639.6,320 640.6,388.1 641.6,333.4 642.6,400.6 643.6,320 644.6,385.1 645.6,332 646.6,397.9 647.6,338.9 648.6,394 649.6,353.3 650.6,400.6 651.6,339.4 652.6,399 653.6,355.7 654.6,392.6 655.6,341.1 656.6,397.8 657.6,338.8 658.6,398.1 659.6,333.6 660.6,396.7 661.6,336.8 662.6,400.1 663.6,348 664.6,392.2 665.6,347.9 666.6,397 667.6,348.2 668.6,389.4 669.6,348.7 670.6,401.5 671.6,348.3 672.6,389.4 673.6,359.9 674.6,401.2 675.6,350.6 676.6,394.3 677.6,347.8 678.6,393.2 679.6,357.1 680.6,396.9 681.6,356.1 682.6,392.9 683.6,347.3 684.6,383.7 685.6,349.7 686.6,392 687.6,334.2 688.6,383.5 689.6,314.3 690.6,387.9 691.6,331.2 692.6,384.5 693.6,342.8 694.6,391.1 695.6,343.9 696.6,379.6 697.6,341.7 698.6,390.6 699.6,327.2 700.6,394.9 701.6,336.9 702.6,397.4 703.6,323.1 704.6,399.2 705.6,313.6 706.6,405 707.6,335.9 708.6,394.9 709.6,322.8 710.6,403.3 711.6,328.2 712.6,398.9 713.6,321.8 714.6,394.5 715.6,334.3 716.6,392.1 717.6,335.9 718.6,388.6 719.6,344.7 720.6,387.6 721.6,329 722.6,384.6 723.6,328.1 724.6,391 725.6,337.8 726.6,388.4 727.6,335.5 728.6,393 729.6,331.7 730.6,389.4 731.6,339.3 732.6,394.6 733.6,337.5 734.6,387.9 735.6,334.9 736.6,386.6 737.6,343.6 738.6,385.9 739.6,328.1 740.6,387.7 741.6,342.4 742.6,391.4 743.6,340.5 744.6,392.8 745.6,353.8 746.6,388.4 747.6,350.9 748.6,390 749.6,343 750.6,383.4 751.6,338.3 752.6,393 753.6,320.9 754.6,389.3 755.6,338.2 756.6,386.6 757.6,354.4 758.6,394.6 759.6,361.4 760.6,395.7 761.6,356.4 762.6,399 763.6,349.1 764.6,395.2 765.6,353 766.6,397.5 767.6,353.1 768.6,389.5 769.6,356.1 770.6,396.3 771.6,355.9 772.6,400.1 773.6,362 774.6,397.2 775.6,358.6 776.6,395.8 777.6,351 778.6,397.6 779.6,356.9 780.6,403.5 781.6,359.6 782.6,409.8 783.6,367.6 784.6,401.3 785.6,364.7 786.6,399.6 787.6,361.4 788.6,394.7 789.6,333.7 790.6,368.1 791.6,317 792.6,369.2 793.6,302.4 794.6,366.6 795.6,288.1 796.6,365.3 797.6,300.5 798.6,355.5 799.6,307.1 800.6,367 801.6,305.3 802.6,355.4 803.6,314.4 804.6,366.8 805.6,315.9 806.6,375 807.6,334.4 808.6,375.4 809.6,337.7 810.6,371.8 811.6,332.4 812.6,376 813.6,311.9 814.6,378.2 815.6,322.7 816.6,375.2 817.6,325.4 818.6,374.9 819.6,329.7 820.6,367.3 821.6,319.3 822.6,368.3 823.6,329.7 824.6,360.9 825.6,325.8 826.6,354.1 827.6,316.3 828.6,355.7 829.6,315.9 830.6,357.3 831.6,336.4 832.6,366.5 833.6,337 834.6,367.5 835.6,334.8 836.6,369.8 837.6,337.8 838.6,371.4 839.6,336.2 840.6,373 841.6,319.4 842.6,370.9 843.6,332.7 844.6,375.3 845.6,336.5 846.6,378 847.6,342 848.6,384.1 849.6,339.6 850.6,396.6 851.6,345.5 852.6,393.8 853.6,346.3 854.6,392.8 855.6,353.1 856.6,390.3 857.6,333.6 858.6,389.1 859.6,347.5 860.6,401.2 861.6,331.8 862.6,401.9 863.6,353.5 864.6,395.5 865.6,347.6 866.6,383.5 867.6,353.6 868.6,381.4 869.6,344.5 870.6,385.1 871.6,339.9 872.6,388.5 873.6,339 874.6,383.7 875.6,338.6 876.6,385 877.6,331.5 878.6,379.5 879.6,328.7 880.6,379.5 881.6,334.1 882.6,382.8 883.6,337.4 884.6,387.9 885.6,353.3 886.6,392.8 887.6,349.4 888.6,392.3 889.6,348.9 890.6,390.9 891.6,343.1 892.6,393.1 893.6,340.8 894.6,385.5 895.6,342.2 896.6,398.2 897.6,328 898.6,389.6 899.6,316.1 900.6,397.3 901.6,325.3 902.6,383.4 903.6,345.9 904.6,390.9 905.6,348.7 906.6,386.8 907.6,361 908.6,396.9 909.6,352.6 910.6,401.1 911.6,353.9 912.6,394.2 913.6,350.6 914.6,401.3 915.6,340.6 916.6,396.6 917.6,334.5 918.6,394.2 919.6,338 920.6,400 921.6,338 922.6,392.4 923.6,328.8 924.6,394.2 925.6,319 926.6,409.3 927.6,322.1 928.6,404.6 929.6,333.4 930.6,397.3 931.6,335.2 932.6,393.8 933.6,355.2 934.6,390.4 935.6,339.1 936.6,384.3 937.6,352.6 938.6,390.3 939.6,351.6 940.6,391.6 941.6,355 942.6,388.4 943.6,334.1 944.6,388.8 945.6,321.8 946.6,391.5 947.6,333.5 948.6,393 949.6,338.5 950.6,400.8 951.6,335.6 952.6,394.2 953.6,351.5 954.6,386.4 955.6,355.4 956.6,388.8 957.6,346.1 958.6,399.3 959.6,337.5 960.6,385.6 961.6,350.8 962.6,383.6 963.6,340.3 964.6,383.1 965.6,338 966.6,386.3 967.6,334.8 968.6,380.7 969.6,328.1 970.6,387.9 971.6,346.4 972.6,382.9 973.6,340.8 974.6,392.1 975.6,344.4 976.6,380.9 977.6,351.9 978.6,388.8 979.6,350.2 980.6,382.2 981.6,345.8 982.6,390.9 983.6,332.7 984.6,389.6 985.6,345.6 986.6,389.9 987.6,349.3 988.6,395.9 989.6,344.1 990.6,385.6 991.6,341.6 992.6,398.5 993.6,343 994.6,396.5 995.6,337.7 996.6,385.5 997.6,346.9 998.6,391.9 999.6,344.5 1000.6,385.8 1001.6,342.1 1002.6,390.7 1003.6,340.4 1004.6,395.6 1005.6,336.3 1006.6,394 1007.6,347.1 1008.6,404.2 1009.6,353.6 1010.6,396.7 1011.6,356.1 1012.6,399.4 1013.6,340.9 1014.6,403.8 1015.6,343.1 1016.6,383.2 1017.6,325.4 1018.6,391.2 1019.6,338.9 1020.6,385.1 1021.6,343.4 1022.6,393.2 1023.6,347.6 1024.6,372 1025.6,328.9 1026.6,369 1027.6,299 1028.6,350.8 1029.6,303.2 1030.6,358 1031.6,307.6 1032.6,356.6 1033.6,291.4 1034.6,367.6 1035.6,288.7 1036.6,359.5 1037.6,292.5 1038.6,361.3 1039.6,280 1040.6,361.1 1041.6,273.2 1042.6,368.5 1043.6,261 1044.6,354.6 1045.6,284.4 1046.6,350.4 1047.6,285.2 1048.6,364.8 1049.6,294.2 1050.6,367.3 1051.6,310.5 1052.6,363.8 1053.6,325.3 1054.6,389.5 1055.6,338.1 1056.6,395.8 1057.6,333.7 1058.6,399.1 1059.6,343.2 1060.6,393.5 1061.6,352.2 1062.6,385.5 1063.6,344.9 1064.6,376.4 1065.6,334.5 1066.6,387.2 1067.6,335.2 1068.6,378.6 1069.6,340.5 1070.6,392.3 1071.6,342 1072.6,387.5 1073.6,354.2 1074.6,392.2 1075.6,349.8 1076.6,393.3 1077.6,330.4 1078.6,387 1079.6,317.2 1080.6,389.5 1081.6,341 1082.6,381.5 1083.6,332.7 1084.6,396.6 1085.6,337.4 1086.6,399.3 1087.6,347.1 1088.6,398.1 1090.2,356.7 1091.5,453.7 1092.7,356.7 1093.9,410.9 1095.1,356.7 1096.5,463.2 1097.9,356.7 1099.6,350.7 1100.6,394.1 1101.6,330.8 1102.6,395.1 1103.6,350.8 1104.6,388.6 1105.6,348.2 1106.6,390.2 1107.6,346 1108.6,391.5 1109.6,354 1110.6,401.5 1111.6,348.7 1112.6,397.5 1113.8,363.4 1115,457.7 1116.2,360 1116.6,406.7 1117.6,350.4 1118.6,401.1 1119.6,347.7 1120.6,403.2 1121.6,349.5 1122.6,397.7 1123.6,350.1 1124.6,389.4 1125.6,353.9 1126.6,386 1127.6,349.2 1128.6,388 1129.6,348.9 1130.6,386.9 1131.6,321.8 1132.6,400.7 1133.6,319.4 1134.6,400.7 1135.6,344 1136.6,407.3 1137.6,347.4 1138.6,391.5 1139.6,348.7 1140.6,402 1141.6,358.6 1142.6,392.8 1143.6,347.8 1144.6,380.7 1145.6,351.6 1146.6,374.1 1147.6,348.4 1148.6,371.6 1149.6,329.7 1150.6,361.6 1151.6,326.7 1152.6,366.4 1153.6,313.6 1154.6,369.9 1155.6,330.3 1156.6,384.1 1157.6,327.8 1158.6,385.4 1159.6,336.5 1160.6,393.1 1161.6,343.3 1162.6,382.7 1163.6,331.1 1164.6,372.6 1165.6,329.7 1166.6,380.6 1167.6,311.8 1168.6,382.3 1169.6,324.7 1170.6,372.8 1171.6,333.9 1172.6,372.2 1173.6,336.3 1174.6,377 1175.6,334.3 1176.6,368.4 1177.6,334 1178.6,368.9 1179.6,319.5 1180.6,371.8 1181.6,315 1182.6,375.4 1183.6,323 1184.6,385.1 1185.6,320 1186.6,380.7 1187.6,320.7 1188.6,376.6 1189.6,312.7 1190.6,380.3 1191.6,325.7 1192.6,383.2 1193.6,331.5 1194.6,383.9 1195.6,330 1196.6,381.9 1197.6,338 1198.6,378.7 1199.6,338.4 1200.6,373.8 1201.6,334.6 1202.6,381.5 1203.6,328.6 1204.6,391.8 1205.6,321.7 1206.6,387.3 1207.6,323.1 1208.6,376.4 1209.6,336 1210.6,382.6 1211.6,332.8 1212.6,369.6 1213.6,328.5 1214.6,377 1215.6,320.9 1216.6,373.6 1217.6,327.2 1218.6,369.1 1219.6,329.6 1220.6,368 1221.6,327.3 1222.6,370 1223.6,336.4 1224.6,358.6 1225.6,336.4 1226.6,360.6 1227.6,323.7 1228.6,367.1 1229.6,316.3 1230.6,359.7 1231.6,322.4 1232.6,370.5 1233.6,329.6 1234.6,372.4 1235.6,323.9 1236.6,363.3 1237.6,320.5 1238.6,375.8 1239.6,314.8 1240.6,379.2 1241.6,296.1 1242.6,394.3 1243.6,298.1 1244.6,395.3 1245.6,308.6 1246.6,395.7 1247.6,290.3 1248.6,397.9 1249.6,303.1 1250.6,395.2 1251.6,307.4 1252.6,393.8 1253.6,299.6 1254.6,397.7 1255.6,300 1256.6,393.7 1257.6,302.7 1258.6,391.8 1259.6,311.8 1260.6,391.9 1261.6,311 1262.6,392.2 1263.6,313.4 1264.6,383.3 1265.6,320.2 1266.6,373.3 1267.6,313 1268.6,385.7 1269.6,300 1270.6,372.4 1271.6,304.6 1272.6,367.2 1273.6,310.3 1274.6,373 1275.6,319.6 1276.6,374 1277.6,333.2 1278.6,376 1279.6,328.6 1280.6,392.8 1281.6,321.6 1282.6,384.3 1283.6,326.7 1284.6,394.3 1285.6,327.9 1286.6,390.7 1287.6,310"/>
</g>
<line x1="104.4" y1="221.3" x2="1288.5" y2="221.3" stroke="#a80c13" stroke-width="2.6"/>
<g class="b" font-size="15.6" fill="#000" stroke="#000" stroke-width="0.2" text-anchor="end">
<text x="87.5" y="565.7" textLength="21.6" lengthAdjust="spacingAndGlyphs">0.0</text>
<text x="87.5" y="497.9" textLength="21.6" lengthAdjust="spacingAndGlyphs">1.0</text>
<text x="87.5" y="430" textLength="21.6" lengthAdjust="spacingAndGlyphs">2.0</text>
<text x="87.5" y="362.2" textLength="21.6" lengthAdjust="spacingAndGlyphs">3.0</text>
<text x="87.5" y="294.3" textLength="21.6" lengthAdjust="spacingAndGlyphs">4.0</text>
<text x="87.5" y="226.5" textLength="21.6" lengthAdjust="spacingAndGlyphs">5.0</text>
<text x="87.5" y="158.6" textLength="21.6" lengthAdjust="spacingAndGlyphs">6.0</text>
<text x="87.5" y="90.8" textLength="21.6" lengthAdjust="spacingAndGlyphs">7.0</text>
</g>
<text class="b" font-size="16.8" fill="#000" stroke="#000" stroke-width="0.3" transform="translate(48.8 392.3) rotate(-90)" textLength="133.5" lengthAdjust="spacingAndGlyphs">Feldstärke [V/m]</text>
<g font-size="16.4" fill="#111" stroke="#111" stroke-width="0.2">
<text transform="translate(110.1 632.3) rotate(-90)" textLength="61.3" lengthAdjust="spacingAndGlyphs">10:40:00</text>
<text transform="translate(131.3 632.3) rotate(-90)" textLength="61.3" lengthAdjust="spacingAndGlyphs">10:42:09</text>
<text transform="translate(152.5 632.3) rotate(-90)" textLength="61.3" lengthAdjust="spacingAndGlyphs">10:44:18</text>
<text transform="translate(173.7 632.3) rotate(-90)" textLength="61.3" lengthAdjust="spacingAndGlyphs">10:46:27</text>
<text transform="translate(194.8 632.3) rotate(-90)" textLength="61.3" lengthAdjust="spacingAndGlyphs">10:48:36</text>
<text transform="translate(216 632.3) rotate(-90)" textLength="61.3" lengthAdjust="spacingAndGlyphs">10:50:45</text>
<text transform="translate(237.2 632.3) rotate(-90)" textLength="61.3" lengthAdjust="spacingAndGlyphs">10:52:54</text>
<text transform="translate(258.4 632.3) rotate(-90)" textLength="61.3" lengthAdjust="spacingAndGlyphs">10:55:03</text>
<text transform="translate(279.6 632.3) rotate(-90)" textLength="61.3" lengthAdjust="spacingAndGlyphs">10:57:12</text>
<text transform="translate(300.8 632.3) rotate(-90)" textLength="61.3" lengthAdjust="spacingAndGlyphs">10:59:21</text>
<text transform="translate(321.9 632.3) rotate(-90)" textLength="61.3" lengthAdjust="spacingAndGlyphs">11:01:30</text>
<text transform="translate(343.1 632.3) rotate(-90)" textLength="61.3" lengthAdjust="spacingAndGlyphs">11:03:39</text>
<text transform="translate(364.3 632.3) rotate(-90)" textLength="61.3" lengthAdjust="spacingAndGlyphs">11:05:48</text>
<text transform="translate(385.5 632.3) rotate(-90)" textLength="61.3" lengthAdjust="spacingAndGlyphs">11:07:57</text>
<text transform="translate(406.7 632.3) rotate(-90)" textLength="61.3" lengthAdjust="spacingAndGlyphs">11:10:06</text>
<text transform="translate(427.9 632.3) rotate(-90)" textLength="61.3" lengthAdjust="spacingAndGlyphs">11:12:15</text>
<text transform="translate(449.1 632.3) rotate(-90)" textLength="61.3" lengthAdjust="spacingAndGlyphs">11:14:24</text>
<text transform="translate(470.2 632.3) rotate(-90)" textLength="61.3" lengthAdjust="spacingAndGlyphs">11:16:33</text>
<text transform="translate(491.4 632.3) rotate(-90)" textLength="61.3" lengthAdjust="spacingAndGlyphs">11:18:42</text>
<text transform="translate(512.6 632.3) rotate(-90)" textLength="61.3" lengthAdjust="spacingAndGlyphs">11:20:51</text>
<text transform="translate(533.8 632.3) rotate(-90)" textLength="61.3" lengthAdjust="spacingAndGlyphs">11:23:00</text>
<text transform="translate(555 632.3) rotate(-90)" textLength="61.3" lengthAdjust="spacingAndGlyphs">11:25:09</text>
<text transform="translate(576.2 632.3) rotate(-90)" textLength="61.3" lengthAdjust="spacingAndGlyphs">11:27:18</text>
<text transform="translate(597.4 632.3) rotate(-90)" textLength="61.3" lengthAdjust="spacingAndGlyphs">11:29:27</text>
<text transform="translate(618.5 632.3) rotate(-90)" textLength="61.3" lengthAdjust="spacingAndGlyphs">11:31:36</text>
<text transform="translate(639.7 632.3) rotate(-90)" textLength="61.3" lengthAdjust="spacingAndGlyphs">11:33:45</text>
<text transform="translate(660.9 632.3) rotate(-90)" textLength="61.3" lengthAdjust="spacingAndGlyphs">11:35:54</text>
<text transform="translate(682.1 632.3) rotate(-90)" textLength="61.3" lengthAdjust="spacingAndGlyphs">11:38:03</text>
<text transform="translate(703.3 632.3) rotate(-90)" textLength="61.3" lengthAdjust="spacingAndGlyphs">11:40:12</text>
<text transform="translate(724.5 632.3) rotate(-90)" textLength="61.3" lengthAdjust="spacingAndGlyphs">11:42:21</text>
<text transform="translate(745.6 632.3) rotate(-90)" textLength="61.3" lengthAdjust="spacingAndGlyphs">11:44:30</text>
<text transform="translate(766.8 632.3) rotate(-90)" textLength="61.3" lengthAdjust="spacingAndGlyphs">11:46:39</text>
<text transform="translate(788 632.3) rotate(-90)" textLength="61.3" lengthAdjust="spacingAndGlyphs">11:48:48</text>
<text transform="translate(809.2 632.3) rotate(-90)" textLength="61.3" lengthAdjust="spacingAndGlyphs">11:50:57</text>
<text transform="translate(830.4 632.3) rotate(-90)" textLength="61.3" lengthAdjust="spacingAndGlyphs">11:53:06</text>
<text transform="translate(851.6 632.3) rotate(-90)" textLength="61.3" lengthAdjust="spacingAndGlyphs">11:55:15</text>
<text transform="translate(872.8 632.3) rotate(-90)" textLength="61.3" lengthAdjust="spacingAndGlyphs">11:57:24</text>
<text transform="translate(893.9 632.3) rotate(-90)" textLength="61.3" lengthAdjust="spacingAndGlyphs">11:59:33</text>
<text transform="translate(915.1 632.3) rotate(-90)" textLength="61.3" lengthAdjust="spacingAndGlyphs">12:01:42</text>
<text transform="translate(936.3 632.3) rotate(-90)" textLength="61.3" lengthAdjust="spacingAndGlyphs">12:03:51</text>
<text transform="translate(957.5 632.3) rotate(-90)" textLength="61.3" lengthAdjust="spacingAndGlyphs">12:06:00</text>
<text transform="translate(978.7 632.3) rotate(-90)" textLength="61.3" lengthAdjust="spacingAndGlyphs">12:08:09</text>
<text transform="translate(999.9 632.3) rotate(-90)" textLength="61.3" lengthAdjust="spacingAndGlyphs">12:10:18</text>
<text transform="translate(1021.1 632.3) rotate(-90)" textLength="61.3" lengthAdjust="spacingAndGlyphs">12:12:27</text>
<text transform="translate(1042.2 632.3) rotate(-90)" textLength="61.3" lengthAdjust="spacingAndGlyphs">12:14:36</text>
<text transform="translate(1063.4 632.3) rotate(-90)" textLength="61.3" lengthAdjust="spacingAndGlyphs">12:16:45</text>
<text transform="translate(1084.6 632.3) rotate(-90)" textLength="61.3" lengthAdjust="spacingAndGlyphs">12:18:54</text>
<text transform="translate(1105.8 632.3) rotate(-90)" textLength="61.3" lengthAdjust="spacingAndGlyphs">12:21:03</text>
<text transform="translate(1127 632.3) rotate(-90)" textLength="61.3" lengthAdjust="spacingAndGlyphs">12:23:12</text>
<text transform="translate(1148.2 632.3) rotate(-90)" textLength="61.3" lengthAdjust="spacingAndGlyphs">12:25:21</text>
<text transform="translate(1169.4 632.3) rotate(-90)" textLength="61.3" lengthAdjust="spacingAndGlyphs">12:27:30</text>
<text transform="translate(1190.5 632.3) rotate(-90)" textLength="61.3" lengthAdjust="spacingAndGlyphs">12:29:39</text>
<text transform="translate(1211.7 632.3) rotate(-90)" textLength="61.3" lengthAdjust="spacingAndGlyphs">12:31:48</text>
<text transform="translate(1232.9 632.3) rotate(-90)" textLength="61.3" lengthAdjust="spacingAndGlyphs">12:33:57</text>
<text transform="translate(1254.1 632.3) rotate(-90)" textLength="61.3" lengthAdjust="spacingAndGlyphs">12:36:06</text>
<text transform="translate(1275.3 632.3) rotate(-90)" textLength="61.3" lengthAdjust="spacingAndGlyphs">12:38:15</text>
</g>
<text x="607.2" y="656.9" font-size="16.8" fill="#111" textLength="174.6" lengthAdjust="spacingAndGlyphs">Zeitraum der Messung</text>
<text x="110" y="55.4" font-size="23.2" fill="#000" textLength="966.3" lengthAdjust="spacingAndGlyphs">5G Mobilfunk Kontroll-Messung | Intensität (Breitbandmessung mit Hoch/Tiefpass Filter)</text>
<line x1="88.5" y1="701.8" x2="126" y2="701.8" stroke="#aeaaaa" stroke-width="1.2"/>
<line x1="222.6" y1="702.3" x2="258" y2="702.3" stroke="#203864" stroke-width="6" stroke-linecap="round"/>
<line x1="575.9" y1="702.3" x2="614.6" y2="702.3" stroke="#8faadc" stroke-width="3"/>
<line x1="1049.4" y1="702.3" x2="1088.1" y2="702.3" stroke="#c00000" stroke-width="3"/>
<g class="b" font-size="14.6" fill="#000">
<text x="129.1" y="706.6" textLength="80.8" lengthAdjust="spacingAndGlyphs">SUMME [Σ]</text>
<text x="266.3" y="706.6" textLength="298.8" lengthAdjust="spacingAndGlyphs">5G | NR Mobilfunk | (bzw. 2.8 bis 10 GHz)</text>
<text x="621.9" y="706.6" textLength="416.9" lengthAdjust="spacingAndGlyphs">3G &amp; 4G UMTS &amp; LTEMobilfunk| (bzw. 700 MHz bis 3 GHz)</text>
<text x="1099.7" y="706.6" textLength="138.4" lengthAdjust="spacingAndGlyphs">Grenzwert AGW (1)</text>
</g>
<rect x="1152.5" y="24.2" width="142.8" height="56.7" fill="#fff"/>
<text x="1160.3" y="50.3" font-size="24" fill="#3d6834" stroke="#3d6834" stroke-width="0.45" textLength="127.2" lengthAdjust="spacingAndGlyphs">URS RASCHLE</text>
<text x="1160.3" y="65" font-size="9.4" fill="#6e6e6e" textLength="127.2" lengthAdjust="spacingAndGlyphs"><tspan class="b">ELEKTROSMOG</tspan><tspan fill="#8a8a8a">-ANALYSEN</tspan></text>
<text x="1160.3" y="75.3" font-size="9.4" fill="#6e6e6e" textLength="91.2" lengthAdjust="spacingAndGlyphs"><tspan class="b">ELEKTRO</tspan><tspan fill="#8a8a8a">-BIOLOGIE</tspan></text>
<text x="1259.2" y="75.3" font-size="9.4" fill="#777" text-anchor="middle">•</text>
<text class="b" x="1265.9" y="75.3" font-size="9.4" fill="#6e6e6e" textLength="21.6" lengthAdjust="spacingAndGlyphs">EMV</text>
<g>
<line x1="473.5" y1="106.8" x2="265" y2="193.9" stroke="#c8221e" stroke-width="2.2"/><polygon points="248.9,200.7 262.6,185.5 269.3,201.6" fill="#cc211d"/>
<line x1="473.5" y1="106.8" x2="508.9" y2="151.4" stroke="#c8221e" stroke-width="2.2"/><polygon points="519.8,165.1 501.4,156.1 515.1,145.2" fill="#cc211d"/>
<line x1="473.5" y1="106.8" x2="833.2" y2="139.8" stroke="#c8221e" stroke-width="2.2"/><polygon points="850.6,141.4 831.4,148.4 833,131" fill="#cc211d"/>
<line x1="473.5" y1="106.8" x2="1093.2" y2="198.1" stroke="#c8221e" stroke-width="2.2"/><polygon points="1110.5,200.7 1090.9,206.7 1093.5,189.3" fill="#cc211d"/>
<line x1="473.5" y1="106.8" x2="1152.3" y2="140.5" stroke="#c8221e" stroke-width="2.2"/><polygon points="1169.8,141.4 1150.9,149.2 1151.8,131.7" fill="#cc211d"/>
</g>
<rect x="113.8" y="68.8" width="365" height="39" fill="#f8f8f8"/>
<rect x="115.3" y="70.3" width="362" height="36" fill="#cc211d"/>
<text class="b" x="127.8" y="96.1" font-size="21.5" fill="#fff" textLength="336" lengthAdjust="spacingAndGlyphs" style="filter:drop-shadow(1px 1px 0 #3a0a08)">!!! Kritische Überschreitungen !!!</text>
</svg>
</body></html>
